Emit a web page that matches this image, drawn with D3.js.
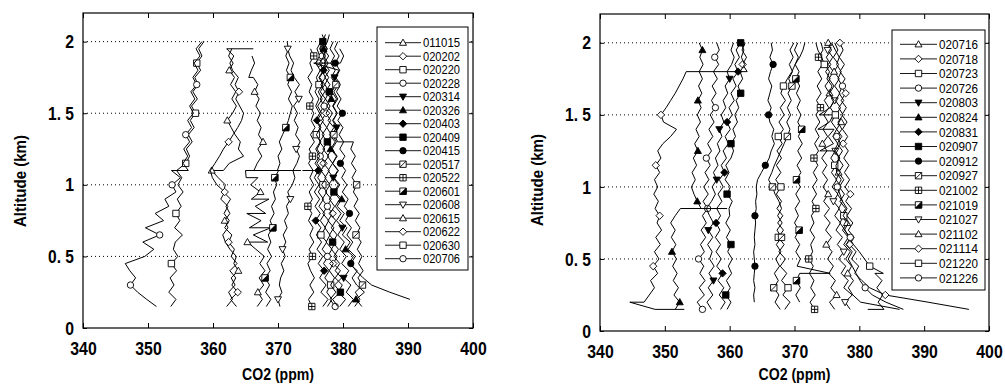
<!DOCTYPE html>
<html>
<head>
<meta charset="utf-8">
<script src="https://cdn.jsdelivr.net/npm/d3@7/dist/d3.min.js"></script>
<style>
  body { margin: 0; background: #fff; }
</style>
</head>
<body>
<svg id="chart" width="1005" height="385"></svg>
<script>
// altitude levels (km) the profiles are sampled at, index 0 = 0.15 km
const LEVELS = [0.15,0.2,0.25,0.3,0.35,0.4,0.45,0.5,0.55,0.6,0.65,0.7,0.75,0.8,0.85,0.9,0.95,1.0,1.05,1.1,
  1.15,1.2,1.25,1.3,1.35,1.4,1.45,1.5,1.55,1.6,1.65,1.7,1.75,1.8,1.85,1.9,1.95,2.0,2.05];
const X_TICKS = [340, 350, 360, 370, 380, 390, 400];
const Y_TICKS = [0, 0.5, 1, 1.5, 2];
const Y_TICK_LABELS = ["0", "0. 5", "1", "1. 5", "2"];

// left panel: CO2 (ppm) per level, an inner list = several readings at the same level
const DATES_A = ["011015","020202","020220","020228","020314","020326","020403","020409","020415",
  "020517","020522","020601","020608","020615","020622","020630","020706"];
const a011015 = [366.8,367.6,366.9,367.8,367.1,368.0,367.2,367.9,366.6,[365.3,368.4],366.2,[368.9,365.6],367.4,[365.2,368.1],366.5,[368.6,365.9],367.3,365.8,[366.9,365.1],[365.0,373.4,366.3],366.8,367.5,366.9,367.7,367.0,367.4,366.8,367.3,366.6,367.1,366.4,366.9,[366.2,365.5],365.9,366.4,366.0];
const a020202 = [379.5,380.4,379.2,379.9,378.8,379.6,378.5,379.1,378.2,378.9,377.9,378.6,377.7,378.4,377.5,378.2,377.3,378.0,377.2,377.9,377.0,377.8,376.9,377.6,376.8,377.5,376.7,377.4,376.6,377.3,376.5,377.2,376.4,377.1,376.3,377.0,376.4,376.9];
const a020220 = [377.6,378.3,377.5,378.1,377.2,377.9,377.0,377.7,376.8,377.5,376.6,377.3,376.5,377.2,376.3,377.0,376.2,376.9,376.1,376.8,376.0,376.7,376.0,376.6,375.9,376.5,375.8,376.4,375.8,376.3,375.7,376.3,375.9,376.5,375.8,376.4,376.0,376.6];
const a020228 = [378.8,378.0,378.9,378.1,378.7,377.9,378.5,377.6,378.3,377.4,378.0,377.2,377.8,376.9,377.6,376.8,377.5,376.7,377.4,376.6,377.3,376.5,377.2,376.4,377.1,376.3,377.0,376.4,377.1,376.5,377.2,376.6,377.3,376.7,377.4,376.8,377.5,377.0];
const a020314 = [380.8,381.6,380.5,381.2,380.1,380.9,379.8,380.5,379.5,380.2,379.2,379.9,379.0,379.7,378.8,379.5,378.6,379.3,378.5,379.2,378.4,379.1,378.3,379.0,378.3,379.0,378.4,379.1,378.5,379.2,378.6,379.3,378.7,379.4,[375.5,379.6],380.1,379.5];
const a020326 = [382.9,382.0,383.3,382.1,381.4,382.2,380.9,381.6,380.4,381.1,379.9,380.6,379.5,380.2,379.1,379.8,378.8,379.5,378.6,379.3,378.4,379.0,378.1,378.8,377.9,378.6,377.7,378.4,377.5,378.2,377.3,378.0,377.2,377.9,377.1,377.8,377.0,377.6,377.9];
const a020403 = [376.9,377.7,376.6,377.4,376.4,377.1,376.2,376.9,376.0,376.7,375.9,376.6,375.8,376.5,375.7,376.4,375.6,376.3,375.6,[376.2,373.8,376.5],375.7,376.4,375.8,376.5,375.9,376.6,376.0,376.7,376.1,376.8,376.2,376.9,376.3,377.0,376.4,377.1,376.5,377.2,376.8];
const a020409 = [379.2,378.4,379.6,378.7,379.8,378.8,379.5,378.6,379.3,378.4,379.1,378.2,378.9,378.0,378.7,377.9,378.6,377.8,378.5,377.7,378.4,377.6,378.3,377.6,378.2,377.5,378.1,377.4,378.0,377.3,377.9,377.2,377.8,377.1,377.7,377.0,377.6,376.9,377.3];
const a020415 = [null,390.3,387.2,384.4,383.1,382.0,381.2,381.9,380.8,381.5,380.6,381.3,380.4,381.0,380.2,380.8,379.9,380.6,379.8,380.4,379.6,380.3,379.5,380.1,379.4,380.0,379.2,379.9,379.1,379.7,379.0,379.6,378.9,379.5,378.8,379.4,378.7,379.2];
const a020517 = [381.8,382.6,381.9,383.0,382.3,383.1,382.4,382.9,382.2,382.8,382.0,382.6,381.9,382.5,381.7,382.3,381.6,382.1,381.4,382.0,381.3,381.9,381.2,[381.6,379.2],378.6,379.3,378.5,379.1,378.4,379.0,378.3,378.9,378.2,378.8,378.1,378.7,378.0,378.5];
const a020522 = [375.2,374.7,375.5,374.9,375.6,375.0,374.6,375.3,374.8,375.5,374.9,375.4,374.7,375.2,374.6,375.3,374.8,375.5,374.9,375.4,374.7,375.3,374.8,375.6,375.0,375.7,375.1,375.5,374.9,375.4,374.8,375.2,374.6,375.3,374.9,375.5,375.0];
const a020601 = [368.2,368.9,368.1,368.7,368.0,368.8,368.3,369.0,368.4,368.9,368.5,369.2,368.8,369.4,369.0,369.6,369.3,369.8,369.5,[370.1,373.5,369.9],370.3,370.0,370.6,370.2,370.7,371.2,371.6,371.9,372.2,371.6,372.1,371.5,371.9,371.3,371.7,371.2,371.6,371.4];
const a020608 = [370.3,370.0,370.6,370.2,370.4,370.9,370.5,371.1,370.7,371.2,370.8,371.4,371.0,371.6,371.3,371.9,371.5,372.2,372.6,372.3,372.9,373.3,372.8,373.4,372.7,373.1,372.5,373.0,372.4,373.2,372.6,373.3,372.5,372.0,372.4,371.8,371.5];
const a020615 = [362.1,363.0,362.4,363.4,362.8,363.9,363.2,363.6,362.6,361.9,361.5,362.3,361.8,362.6,362.0,362.7,361.6,361.9,360.8,[359.8,361.6],362.5,364.7,363.9,364.2,363.4,362.8,362.2,363.0,363.6,362.9,363.5,362.7,363.3,362.5,363.1,362.4,362.9];
const a020622 = [363.6,362.7,363.8,362.9,363.5,362.6,363.7,362.8,363.3,362.4,362.9,361.8,362.5,361.7,362.3,361.2,361.8,360.6,359.9,359.6,360.3,361.0,361.6,362.4,363.1,363.8,364.4,364.7,364.1,363.5,364.0,363.4,363.9,363.0,362.6,363.2,[362.1,366.2]];
const a020630 = [353.5,354.3,353.2,354.0,353.4,354.4,353.6,354.6,353.9,354.2,355.3,354.1,354.9,354.3,355.1,354.5,355.4,354.6,355.2,354.4,355.8,356.4,355.9,356.8,356.2,357.1,356.5,357.3,356.7,357.6,356.9,357.7,357.2,358.1,357.5,358.3,357.8,358.6];
const a020706 = [351.3,349.8,348.4,347.3,348.1,347.2,346.5,349.5,350.9,349.2,351.8,349.6,352.4,351.1,353.2,352.6,354.3,353.7,355.0,[353.6,356.2],355.4,356.1,355.5,356.4,355.8,356.7,356.1,357.0,356.4,357.2,356.6,357.5,356.9,357.7,357.1,358.0,357.4,358.3];

// right panel
const DATES_B = ["020716","020718","020723","020726","020803","020824","020831","020907","020912",
  "020927","021002","021019","021027","021102","021114","021220","021226"];
const b020716 = [376.2,375.4,376.5,375.6,376.3,375.3,376.0,375.1,375.8,374.9,375.7,374.8,375.5,374.6,375.4,374.5,375.2,374.4,375.1,374.3,375.0,374.2,375.0,374.3,375.1,374.4,375.2,374.5,375.3,374.6,375.4,374.7,375.5,374.8,375.6,374.9,375.7,375.2];
const b020718 = [[353.0,348.5],[344.6,346.8],347.6,348.4,347.8,348.9,348.2,349.1,348.4,349.3,348.6,349.5,348.8,349.2,348.5,349.0,348.3,348.9,348.4,349.2,348.6,349.4,348.9,349.7,350.9,351.8,349.8,349.4,350.2,350.9,351.6,352.2,352.8,[353.3,362.7],362.0,362.6,361.9,362.4];
const b020723 = [368.5,369.3,368.2,369.0,368.0,368.8,367.8,368.6,367.6,368.4,367.5,368.3,367.4,368.2,367.3,368.0,367.2,367.9,367.1,367.9,367.2,368.0,367.3,368.1,367.5,368.3,367.6,368.4,367.8,368.6,367.9,368.3,368.9,369.6,370.1,370.8,371.3,371.6];
const b020726 = [355.8,355.0,356.1,355.3,356.2,355.4,356.0,355.2,356.1,355.5,356.3,355.6,356.4,355.8,356.6,355.9,356.7,356.0,356.8,356.2,357.0,356.4,357.2,356.6,357.4,356.8,357.6,357.0,357.8,357.2,357.9,357.3,358.1,357.5,358.3,357.7,358.4,358.0];
const b020803 = [357.2,356.5,357.4,356.7,357.5,356.8,357.6,356.9,357.3,356.6,357.4,356.7,357.5,356.9,356.4,357.2,357.8,357.3,358.0,357.5,358.2,357.8,358.5,358.1,358.8,358.4,359.1,358.7,359.4,359.0,359.7,359.3,360.0,359.6,360.3,360.7,360.2,360.6];
const b020824 = [351.6,352.3,351.4,352.1,351.3,351.9,351.2,351.8,351.1,351.7,351.0,351.6,350.9,351.6,[352.4,359.6,355.6],355.0,354.5,354.1,354.7,354.2,354.9,354.4,355.1,354.6,355.3,354.8,355.5,355.0,355.6,355.1,355.7,355.2,355.8,355.3,355.9,355.4,355.8,355.3];
const b020831 = [358.6,359.3,358.4,359.1,358.2,358.9,358.0,358.7,357.9,358.6,357.8,358.5,357.9,358.6,358.0,358.8,358.2,359.0,358.4,359.2,358.7,359.5,359.0,359.8,359.3,360.1,359.6,360.4,359.9,360.7,360.2,361.0,360.5,361.3,360.8,361.5,361.0,361.7];
const b020907 = [359.6,360.2,359.4,360.1,359.5,360.3,359.8,360.4,359.7,360.2,359.5,360.1,359.4,360.0,359.9,360.4,359.6,360.1,359.3,359.9,359.4,360.2,360.6,360.2,360.9,360.5,361.2,360.8,361.4,361.0,361.7,361.3,362.0,361.6,362.3,361.8,362.2,361.7];
const b020912 = [null,363.8,363.7,363.9,363.7,363.8,363.9,363.8,363.7,363.9,363.8,363.9,364.0,363.9,364.1,364.0,364.2,364.1,364.3,364.9,365.5,366.1,366.4,366.9,366.5,366.8,366.2,366.0,366.4,365.9,366.2,366.5,366.0,366.3,366.7,366.2,366.6,366.4];
const b020927 = [367.8,367.0,367.6,366.8,367.5,366.9,367.7,367.1,367.9,367.2,368.0,367.3,368.1,367.4,368.0,367.6,367.0,366.6,366.0,366.5,366.9,367.4,367.9,368.4,368.9,369.3,368.8,369.4,368.9,369.5,369.0,369.6,369.1,369.7,369.2,369.8,369.3,369.9];
const b021002 = [373.1,372.4,373.2,372.5,373.0,372.3,372.9,372.2,372.8,372.5,373.1,372.4,373.0,372.6,373.3,372.7,373.4,372.8,373.5,372.9,373.6,373.0,373.7,373.1,373.8,373.2,373.9,373.3,374.0,373.4,374.1,373.5,374.2,373.6,374.3,373.7,374.4,374.1];
const b021019 = [null,370.8,370.2,370.9,370.3,[370.8,375.5],370.4,370.9,370.2,370.8,370.1,370.7,370.0,370.6,370.1,370.8,370.2,370.9,370.3,371.0,370.4,371.1,370.5,371.2,370.6,371.1,370.5,371.0,370.4,370.9,370.3,370.8,370.2,370.7,370.1,370.6,370.0,370.5];
const b021027 = [378.6,377.8,378.9,377.6,378.3,377.2,377.9,376.8,377.6,376.6,377.4,376.4,377.1,376.2,376.9,376.0,376.7,375.8,376.5,375.7,376.4,375.6,[376.3,373.9],376.0,375.2,[376.1,373.6],375.4,[376.0,373.8],375.5,376.2,375.4,376.1,375.3,376.0,375.2,375.9,375.1,375.6];
const b021102 = [386.2,380.2,379.0,378.3,379.1,378.2,378.8,377.9,378.6,377.6,378.3,377.4,378.1,377.2,377.9,377.0,377.7,376.9,377.6,376.8,377.5,376.7,377.4,376.6,377.3,376.5,377.2,376.4,377.1,376.3,377.0,376.2,376.9,376.1,376.8,376.0,376.7,376.2];
const b021114 = [396.9,390.6,384.0,381.6,380.4,379.3,379.9,378.8,379.5,378.5,379.2,378.3,379.0,378.1,378.8,377.9,378.6,377.8,378.5,377.7,378.4,377.6,378.3,377.5,378.2,377.4,378.1,377.3,378.0,377.2,377.9,377.1,377.8,377.0,377.7,376.9,377.5,377.0];
const b021220 = [[381.3,383.8],382.9,383.6,382.7,383.5,[382.4,383.7],381.6,380.8,380.0,379.1,378.4,377.8,377.0,377.6,376.8,377.4,376.6,377.2,376.4,377.0,376.2,376.9,376.1,376.7,375.9,376.5,375.7,376.3,375.5,376.1,375.3,375.8,375.0,375.4,374.6,374.2,373.6,373.3];
const b021226 = [386.8,384.1,382.0,380.9,380.1,379.5,378.9,378.3,378.9,378.0,378.6,377.7,378.3,377.5,378.1,377.4,377.0,376.6,377.2,376.5,376.4,377.0,376.3,377.1,376.5,377.3,376.7,377.5,376.8,377.6,376.9,377.4,376.7,377.2,376.5,376.9,376.3,375.7];

const SERIES_A = [a011015,a020202,a020220,a020228,a020314,a020326,a020403,a020409,a020415,
  a020517,a020522,a020601,a020608,a020615,a020622,a020630,a020706];
const SERIES_B = [b020716,b020718,b020723,b020726,b020803,b020824,b020831,b020907,b020912,
  b020927,b021002,b021019,b021027,b021102,b021114,b021220,b021226];

const FONT = '"Liberation Sans", Arial, sans-serif';

// marker sequence (same order in both panels)
const MARKERS = [["tri",0],["dia",0],["sq",0],["circ",0],["tridown",1],["tri",1],["dia",1],["sq",1],["circ",1],
  ["sq",0,"slash"],["sq",0,"cross"],["sq",1,"half"],["tridown",0],["tri",0],["dia",0],["sq",0],["circ",0]];
const SHAPES = {
  tri: "M0,-3.6L3.5,2.6L-3.5,2.6Z",
  tridown: "M0,3.6L3.5,-2.6L-3.5,-2.6Z",
  dia: "M0,-3.7L3.7,0L0,3.7L-3.7,0Z",
  sq: "M-3.2,-3.2H3.2V3.2H-3.2Z"
};

function addMarker(sel, spec, cx, cy) {
  const [shape, filled, extra] = spec;
  const m = sel.append("g").attr("transform", `translate(${cx},${cy})`)
    .attr("stroke", "#000").attr("stroke-width", 0.9);
  if (shape === "circ") {
    m.append("circle").attr("r", 3.2).attr("fill", filled ? "#000" : "#fff");
  } else if (extra === "half") {
    m.append("path").attr("d", SHAPES.sq).attr("fill", "#fff");
    m.append("path").attr("d", "M3.2,-3.2V3.2H-3.2Z").attr("fill", "#000");
  } else {
    m.append("path").attr("d", SHAPES[shape]).attr("fill", filled ? "#000" : "#fff");
  }
  if (extra === "slash") m.append("path").attr("d", "M-3.2,3.2L3.2,-3.2").attr("fill", "none");
  if (extra === "cross") m.append("path").attr("d", "M0,-3.2V3.2M-3.2,0H3.2").attr("fill", "none");
}

//the original uses a narrow gothic face, so squeeze text to the measured width
function squeeze(sel, perChar) {
  sel.each(function () {
    const t = d3.select(this);
    const s = t.text();
    if (!s) return;
    let w = 0;
    for (const ch of s) w += (ch === "." ? 0.45 : ch === " " ? 0.5 : 1) * perChar;
    t.attr("textLength", w).attr("lengthAdjust", "spacingAndGlyphs");
  });
}

const svg = d3.select("#chart");

function drawPanel(opt) {
  const x = d3.scaleLinear().domain([340, 400]).range([opt.left, opt.right]);
  const y = d3.scaleLinear().domain([0, 2.2]).range([opt.bottom, opt.top]);
  const g = svg.append("g");

  //dotted horizontal grid lines
  g.append("g").selectAll("line")
    .data(Y_TICKS.filter(v => v > 0))
    .join("line")
    .attr("x1", opt.left).attr("x2", opt.right)
    .attr("y1", d => y(d)).attr("y2", d => y(d))
    .attr("stroke", "#000").attr("stroke-width", 1)
    .attr("stroke-dasharray", "1,3");

  const clipId = "clip" + opt.id;
  svg.append("clipPath").attr("id", clipId).append("rect")
    .attr("x", opt.left).attr("y", opt.top)
    .attr("width", opt.right - opt.left).attr("height", opt.bottom - opt.top);

  const plot = g.append("g").attr("clip-path", `url(#${clipId})`);
  const line = d3.line().x(d => x(d[0])).y(d => y(d[1]));

  opt.series.forEach((vals, k) => {
    const pts = [];
    vals.forEach((v, i) => {
      if (v == null) return;
      (Array.isArray(v) ? v : [v]).forEach(c => pts.push([c, LEVELS[i]]));
    });
    plot.append("path").datum(pts)
      .attr("d", line)
      .attr("fill", "none").attr("stroke", "#000").attr("stroke-width", 1)
      .attr("stroke-linejoin", "round");
    //a marker every few levels, shifted per series so they don't line up
    vals.forEach((v, i) => {
      if (v == null || (i + 3 * k) % 7 !== 2) return;
      const c = Array.isArray(v) ? v[0] : v;
      addMarker(plot, MARKERS[k], x(c), y(LEVELS[i]));
    });
  });

  // axes: ticks point inward on all four sides
  const styleAxis = a => {
    a.select(".domain").remove();
    a.attr("font-family", FONT).attr("font-size", 19).attr("font-weight", "bold");
    a.selectAll("line").attr("stroke", "#000");
    a.selectAll("text").attr("fill", "#000").call(squeeze, 8.8);
  };
  g.append("g").attr("transform", `translate(0,${opt.bottom})`)
    .call(d3.axisBottom(x).tickValues(X_TICKS).tickSizeInner(-5).tickSizeOuter(0).tickPadding(14))
    .call(styleAxis);
  g.append("g").attr("transform", `translate(0,${opt.top})`)
    .call(d3.axisTop(x).tickValues(X_TICKS).tickSizeInner(-5).tickSizeOuter(0).tickFormat(""))
    .call(styleAxis);
  g.append("g").attr("transform", `translate(${opt.left},0)`)
    .call(d3.axisLeft(y).tickValues(Y_TICKS).tickSizeInner(-4).tickSizeOuter(0).tickPadding(9)
      .tickFormat((d, i) => Y_TICK_LABELS[i]))
    .call(styleAxis);
  g.append("g").attr("transform", `translate(${opt.right},0)`)
    .call(d3.axisRight(y).tickValues(Y_TICKS).tickSizeInner(-4).tickSizeOuter(0).tickFormat(""))
    .call(styleAxis);

  g.append("rect")
    .attr("x", opt.left).attr("y", opt.top)
    .attr("width", opt.right - opt.left).attr("height", opt.bottom - opt.top)
    .attr("fill", "none").attr("stroke", "#000").attr("stroke-width", 1.2);

  g.append("text")
    .text("CO2 (ppm)")
    .attr("x", (opt.left + opt.right) / 2).attr("y", 380)
    .attr("text-anchor", "middle")
    .attr("font-family", FONT).attr("font-size", 17).attr("font-weight", "bold")
    .attr("textLength", 72).attr("lengthAdjust", "spacingAndGlyphs");

  g.append("text")
    .text("Altitude (km)")
    .attr("transform", `translate(${opt.ylabelX},${opt.ylabelY}) rotate(-90)`)
    .attr("text-anchor", "middle")
    .attr("font-family", FONT).attr("font-size", 17).attr("font-weight", "bold")
    .attr("textLength", 92).attr("lengthAdjust", "spacingAndGlyphs");

  // legend
  const L = opt.legend;
  const lg = g.append("g");
  lg.append("rect")
    .attr("x", L.x0).attr("y", L.y0)
    .attr("width", L.x1 - L.x0).attr("height", L.y1 - L.y0)
    .attr("fill", "#fff").attr("stroke", "#000").attr("stroke-width", 1);
  opt.names.forEach((name, k) => {
    const yy = L.first + k * L.step;
    lg.append("line")
      .attr("x1", L.lineX0).attr("x2", L.lineX1).attr("y1", yy).attr("y2", yy)
      .attr("stroke", "#000").attr("stroke-width", 0.9);
    addMarker(lg, MARKERS[k], (L.lineX0 + L.lineX1) / 2, yy);
    lg.append("text")
      .text(name)
      .attr("x", L.textX).attr("y", yy + 4.6)
      .attr("font-family", FONT).attr("font-size", 13)
      .attr("textLength", L.textW).attr("lengthAdjust", "spacingAndGlyphs");
  });
}

drawPanel({
  id: "A", left: 83, right: 473, top: 13, bottom: 328,
  series: SERIES_A, names: DATES_A,
  ylabelX: 26, ylabelY: 181,
  legend: { x0: 377, x1: 468, y0: 27, y1: 270, first: 42.7, step: 13.5, lineX0: 385, lineX1: 421, textX: 423, textW: 37 }
});
drawPanel({
  id: "B", left: 600, right: 989, top: 14, bottom: 331,
  series: SERIES_B, names: DATES_B,
  ylabelX: 543, ylabelY: 180,
  legend: { x0: 892, x1: 985, y0: 30, y1: 290, first: 44.3, step: 14.6, lineX0: 900, lineX1: 937, textX: 939, textW: 39 }
});
</script>
</body>
</html>
